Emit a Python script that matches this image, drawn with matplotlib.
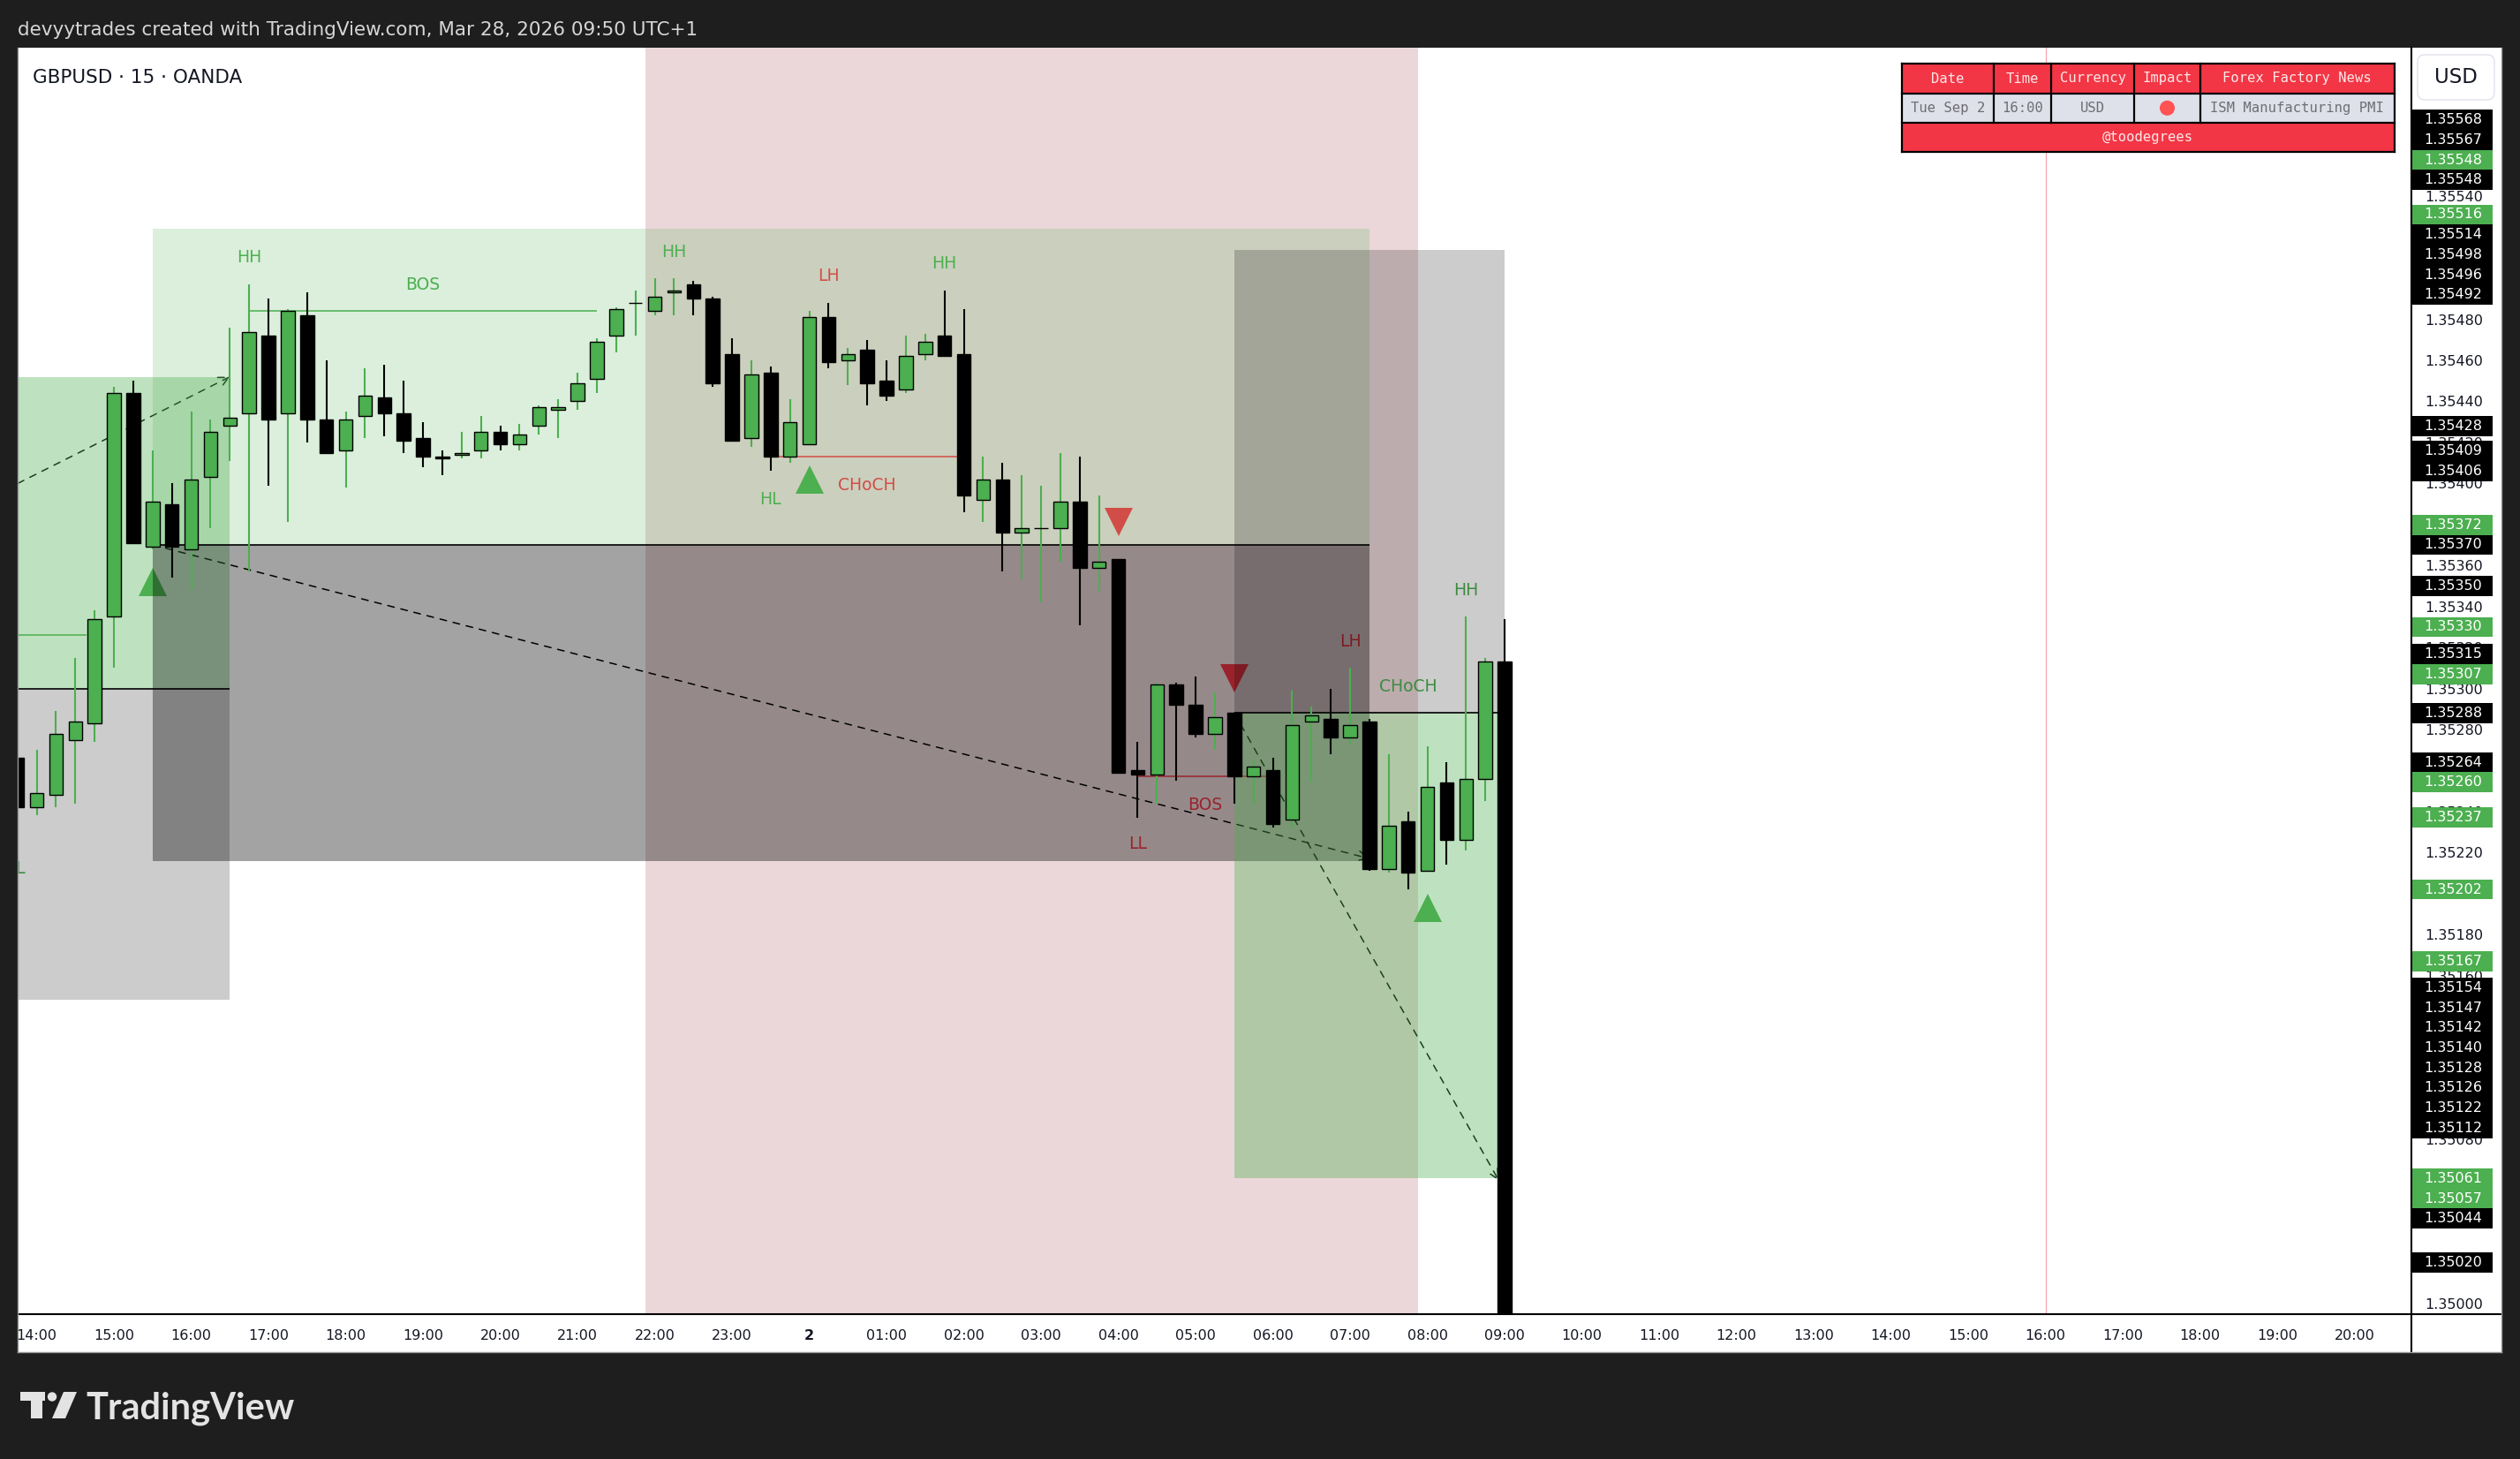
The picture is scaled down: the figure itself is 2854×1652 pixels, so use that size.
import numpy as np
import matplotlib.pyplot as plt
from matplotlib.patches import Rectangle, Circle, Polygon, FancyBboxPatch
from matplotlib.lines import Line2D
from matplotlib.transforms import blended_transform_factory

#%% data: GBPUSD 15m bars, first bar is 13:45 (cut by the left edge)
first_bar = -1
#            open     high     low      close
bars = [
    (1.35266, 1.35266, 1.35242, 1.35242),
    # 14:00
    (1.35242, 1.35270, 1.35238, 1.35249), (1.35248, 1.35289, 1.35242, 1.35278),
    (1.35275, 1.35315, 1.35244, 1.35284), (1.35283, 1.35338, 1.35274, 1.35334),
    # 15:00
    (1.35335, 1.35447, 1.35310, 1.35444), (1.35444, 1.35450, 1.35371, 1.35371),
    (1.35369, 1.35416, 1.35368, 1.35391), (1.35390, 1.35400, 1.35354, 1.35369),
    # 16:00
    (1.35368, 1.35435, 1.35348, 1.35402), (1.35403, 1.35431, 1.35378, 1.35425),
    (1.35428, 1.35476, 1.35411, 1.35432), (1.35434, 1.35497, 1.35357, 1.35474),
    # 17:00
    (1.35472, 1.35490, 1.35399, 1.35431), (1.35434, 1.35485, 1.35381, 1.35484),
    (1.35482, 1.35493, 1.35420, 1.35431), (1.35431, 1.35460, 1.35415, 1.35415),
    # 18:00
    (1.35416, 1.35435, 1.35398, 1.35431), (1.35433, 1.35456, 1.35422, 1.35443),
    (1.35442, 1.35458, 1.35423, 1.35434), (1.35434, 1.35450, 1.35415, 1.35421),
    # 19:00
    (1.35422, 1.35430, 1.35408, 1.35413), (1.35413, 1.35416, 1.35404, 1.35412),
    (1.35414, 1.35425, 1.35412, 1.35415), (1.35416, 1.35433, 1.35412, 1.35425),
    # 20:00
    (1.35425, 1.35428, 1.35416, 1.35419), (1.35419, 1.35429, 1.35416, 1.35424),
    (1.35428, 1.35438, 1.35424, 1.35437), (1.35436, 1.35441, 1.35422, 1.35437),
    # 21:00
    (1.35440, 1.35454, 1.35436, 1.35449), (1.35451, 1.35471, 1.35444, 1.35469),
    (1.35472, 1.35486, 1.35464, 1.35485), (1.35488, 1.35494, 1.35472, 1.35488),
    # 22:00
    (1.35484, 1.35500, 1.35482, 1.35491), (1.35493, 1.35500, 1.35482, 1.35494),
    (1.35497, 1.35499, 1.35482, 1.35490), (1.35490, 1.35491, 1.35447, 1.35449),
    # 23:00
    (1.35463, 1.35471, 1.35421, 1.35421), (1.35422, 1.35460, 1.35418, 1.35453),
    (1.35454, 1.35457, 1.35406, 1.35413), (1.35413, 1.35441, 1.35410, 1.35430),
    # 00:00
    (1.35419, 1.35484, 1.35419, 1.35481), (1.35481, 1.35488, 1.35456, 1.35459),
    (1.35460, 1.35466, 1.35448, 1.35463), (1.35465, 1.35470, 1.35438, 1.35449),
    # 01:00
    (1.35450, 1.35460, 1.35440, 1.35443), (1.35446, 1.35472, 1.35444, 1.35462),
    (1.35463, 1.35473, 1.35460, 1.35469), (1.35472, 1.35494, 1.35462, 1.35462),
    # 02:00
    (1.35463, 1.35485, 1.35386, 1.35394), (1.35392, 1.35413, 1.35381, 1.35402),
    (1.35402, 1.35410, 1.35357, 1.35376), (1.35376, 1.35404, 1.35353, 1.35378),
    # 03:00
    (1.35378, 1.35399, 1.35342, 1.35378), (1.35378, 1.35415, 1.35362, 1.35391),
    (1.35391, 1.35413, 1.35331, 1.35359), (1.35359, 1.35394, 1.35347, 1.35362),
    # 04:00
    (1.35363, 1.35363, 1.35259, 1.35259), (1.35260, 1.35274, 1.35237, 1.35258),
    (1.35258, 1.35303, 1.35244, 1.35302), (1.35302, 1.35303, 1.35255, 1.35292),
    # 05:00
    (1.35292, 1.35306, 1.35276, 1.35278), (1.35278, 1.35298, 1.35270, 1.35286),
    (1.35288, 1.35288, 1.35244, 1.35257), (1.35257, 1.35265, 1.35244, 1.35262),
    # 06:00
    (1.35260, 1.35266, 1.35232, 1.35234), (1.35236, 1.35299, 1.35232, 1.35282),
    (1.35284, 1.35291, 1.35254, 1.35287), (1.35285, 1.35300, 1.35268, 1.35276),
    # 07:00
    (1.35276, 1.35310, 1.35273, 1.35282), (1.35284, 1.35285, 1.35211, 1.35212),
    (1.35212, 1.35268, 1.35210, 1.35233), (1.35235, 1.35240, 1.35202, 1.35210),
    # 08:00
    (1.35211, 1.35272, 1.35211, 1.35252), (1.35254, 1.35264, 1.35214, 1.35226),
    (1.35226, 1.35335, 1.35221, 1.35256), (1.35256, 1.35315, 1.35245, 1.35313),
    # 09:00
    (1.35313, 1.35334, 1.34900, 1.34950),
]

time_labels = ['14:00', '15:00', '16:00', '17:00', '18:00', '19:00', '20:00',
               '21:00', '22:00', '23:00', '2', '01:00', '02:00', '03:00',
               '04:00', '05:00', '06:00', '07:00', '08:00', '09:00', '10:00',
               '11:00', '12:00', '13:00', '14:00', '15:00', '16:00', '17:00',
               '18:00', '19:00', '20:00']
price_ticks = np.round(np.arange(1.35000, 1.35581, 0.0002), 5)

# coloured labels on the price scale
scale_vals = [1.35568, 1.35567, 1.35548, 1.35548, 1.35516, 1.35514, 1.35498,
              1.35496, 1.35492, 1.35428, 1.35409, 1.35406, 1.35372, 1.35370,
              1.35350, 1.35330, 1.35315, 1.35307, 1.35288, 1.35264, 1.35260,
              1.35237, 1.35202, 1.35167, 1.35154, 1.35147, 1.35142, 1.35140,
              1.35128, 1.35126, 1.35122, 1.35112, 1.35061, 1.35057, 1.35044,
              1.35020]
scale_kind = ['b', 'b', 'g', 'b', 'g', 'b', 'b', 'b', 'b', 'b', 'b', 'b',
              'g', 'b', 'b', 'g', 'b', 'g', 'b', 'b', 'g', 'g', 'g', 'g',
              'b', 'b', 'b', 'b', 'b', 'b', 'b', 'b', 'g', 'g', 'b', 'b']

# zones (bar from, bar to, price low, price high, kind)
zones = [
    (-3, 10, 1.35300, 1.35452, 'bull2'),
    (-3, 10, 1.35148, 1.35300, 'bear1'),
    (6, 69, 1.35370, 1.35524, 'bull1'),
    (6, 69, 1.35216, 1.35370, 'bear2'),
    (62, 76, 1.35288, 1.35514, 'bear1'),
    (62, 76, 1.35061, 1.35288, 'bull2'),
]
session = (31.5, 71.5)       # 22:00 - 08:00 bars
news_bar = 104               # 16:00 next day

# structure lines (price, bar from, bar to, kind)
struct_lines = [
    (1.35326, -3, 2.6, 'bull'),
    (1.35484, 11, 29, 'bull'),
    (1.35413, 38, 48, 'bear'),
    (1.35257, 57, 64, 'bear'),
]
level_lines = [
    (1.35300, -3, 10),
    (1.35370, 6, 69),
    (1.35288, 62, 76),
]
# dashed arrows (bar0, price0, bar1, price1)
arrows = [
    (-0.98, 1.35400, 10, 1.35452),
    (6, 1.35370, 69, 1.35217),
    (62, 1.35288, 75.7, 1.35060),
]
swing_text = ['HH', 'BOS', 'HH', 'LH', 'HH', 'HL', 'CHoCH', 'LL', 'BOS', 'LH',
              'CHoCH', 'HH', 'HL']
swing_bar = [11, 20, 33, 41, 47, 38, 43, 57, 60.5, 68, 71, 74, -1.15]
swing_price = [1.35510, 1.35497, 1.35513, 1.35501, 1.35507, 1.35392, 1.35399,
               1.35224, 1.35243, 1.35323, 1.35301, 1.35348, 1.35212]
swing_kind = ['bull', 'bull', 'bull', 'bear', 'bull', 'bull', 'bear', 'bear',
              'bear', 'bear', 'bull', 'bull', 'bull']
up_marks_bar = [6, 40, 72]
up_marks_price = [1.35352, 1.35402, 1.35193]
down_marks_bar = [56, 62]
down_marks_price = [1.35381, 1.35305]

table_head = ['Date', 'Time', 'Currency', 'Impact', 'Forex Factory News']
table_row = ['Tue Sep 2', '16:00', 'USD', '', 'ISM Manufacturing PMI']
table_foot = '@toodegrees'

header_text = 'devyytrades created with TradingView.com, Mar 28, 2026 09:50 UTC+1'
symbol_text = 'GBPUSD · 15 · OANDA'

#%% styles
W, H = 2854, 1652
DARK = '#1e1e1e'
GREEN = '#4caf50'
RED = '#f23645'
INK = '#131722'
zone_style = {'bull1': (GREEN, 0.2), 'bull2': (GREEN, 0.36),
              'bear1': ('black', 0.2), 'bear2': ('black', 0.36)}
kind_color = {'bull': GREEN, 'bear': RED}

fig = plt.figure(figsize=(W / 100, H / 100), dpi=100, facecolor=DARK)

# background panel and overlay in pixel coordinates
bg = fig.add_axes([0, 0, 1, 1], zorder=-10)
bg.set_xlim(0, W)
bg.set_ylim(H, 0)
bg.axis('off')
bg.add_patch(Rectangle((20, 54), 2813, 1477, fc='white', ec='none'))

ax = fig.add_axes([20 / W, 1 - 1488 / H, 2711 / W, 1434 / H], zorder=1)
ax.set_facecolor('white')
ax.set_xlim(-0.987, 122.945)
ax.set_ylim(1.3499483, 1.356125)
for s in ax.spines.values():
    s.set_visible(False)

#%% candles
o, h, l, c = (np.array(col) for col in zip(*bars))
k = np.arange(first_bar, first_bar + len(o))
up = c >= o
col = np.where(up, GREEN, 'black')
ax.vlines(k, l, h, colors=col, lw=1.5, zorder=5)
ax.bar(k, np.maximum(np.abs(c - o), 3e-7), bottom=np.minimum(o, c), width=0.71,
       color=col, edgecolor='black', linewidth=1.0, zorder=6)

#%% drawings
ax.axvspan(session[0], session[1], color='#ebd7d9', lw=0, zorder=0.5)
ax.axvline(news_bar, color='#f5a3aa', lw=0.9, zorder=0.6)

for x0, x1, p0, p1, kind in zones:
    fc, a = zone_style[kind]
    ax.add_patch(Rectangle((x0, p0), x1 - x0, p1 - p0, fc=fc, alpha=a, ec='none', zorder=3))

for p, x0, x1, kind in struct_lines:
    ax.hlines(p, x0, x1, colors=kind_color[kind], lw=1.1, zorder=1)
for p, x0, x1 in level_lines:
    ax.hlines(p, x0, x1, colors='black', lw=1.2, zorder=4)

for x0, p0, x1, p1 in arrows:
    ax.annotate('', xy=(x1, p1), xytext=(x0, p0), zorder=1,
                arrowprops=dict(arrowstyle='->', color='black', lw=1.1,
                                linestyle=(0, (5, 5)), shrinkA=0, shrinkB=0,
                                mutation_scale=20))

for t, x, p, kind in zip(swing_text, swing_bar, swing_price, swing_kind):
    ax.text(x, p, t, color=kind_color[kind], fontsize=13.5, ha='center',
            va='center', zorder=1, clip_on=True)

ax.plot(up_marks_bar, up_marks_price, ls='none', marker='^', ms=23.5,
        color=GREEN, mew=0, zorder=1)
ax.plot(down_marks_bar, down_marks_price, ls='none', marker='v', ms=23.5,
        color=RED, mew=0, zorder=1)

#%% axes ticks
ax.set_xticks(np.arange(0, 4 * len(time_labels), 4))
ax.set_xticklabels(time_labels)
ax.tick_params(axis='x', length=0, pad=12.5, labelsize=11.5, labelcolor=INK)
for lab in ax.get_xticklabels():
    if lab.get_text() == '2':
        lab.set_fontweight('bold')
ax.yaxis.tick_right()
ax.set_yticks(price_ticks)
ax.set_yticklabels([f'{v:.5f}' for v in price_ticks])
ax.tick_params(axis='y', length=0, pad=10.8, labelsize=11.5, labelcolor=INK)

# coloured scale labels, pushed apart like the price scale does
lab_h = 0.0000978
mid = sum(ax.get_ylim()) / 2
order = sorted(range(len(scale_vals)), key=lambda i: (scale_vals[i], scale_kind[i] == 'g'))
pos = [0.0] * len(scale_vals)
last = None
for i in [j for j in order if scale_vals[j] > mid]:
    y = scale_vals[i] if last is None else max(scale_vals[i], last + lab_h)
    pos[i] = last = y
last = None
for i in [j for j in order if scale_vals[j] <= mid][::-1]:
    y = scale_vals[i] if last is None else min(scale_vals[i], last - lab_h)
    pos[i] = last = y

# a tick label whose middle sits under a coloured label is not seen at all
for v, lab in zip(price_ticks, ax.get_yticklabels()):
    if any(abs(v - y) < lab_h * 0.3 for y in pos):
        lab.set_visible(False)

tr = blended_transform_factory(ax.transAxes, ax.transData)
bx0 = (2732 - 20) / 2711
bx1 = (2823 - 20) / 2711
for v, kind, y in zip(scale_vals, scale_kind, pos):
    ax.add_patch(Rectangle((bx0, y - lab_h / 2), bx1 - bx0, lab_h, transform=tr,
                           fc=GREEN if kind == 'g' else 'black', ec='none',
                           clip_on=False, zorder=20))
    ax.text((2778 - 20) / 2711, y, f'{v:.5f}', transform=tr, color='white',
            fontsize=11.5, ha='center', va='center', clip_on=False, zorder=21)

#%% overlay: frame, header, table, logo
ov = fig.add_axes([0, 0, 1, 1], zorder=10)
ov.set_xlim(0, W)
ov.set_ylim(H, 0)
ov.axis('off')

ov.add_line(Line2D([20, 2833], [1488, 1488], color='black', lw=1.5))
ov.add_line(Line2D([2731, 2731], [54, 1531], color='black', lw=1.5))
ov.add_line(Line2D([20, 2833], [1531, 1531], color='#9a9a9a', lw=1))
ov.add_line(Line2D([2833, 2833], [54, 1531], color='#9a9a9a', lw=1))
ov.add_line(Line2D([19.5, 19.5], [54, 1531], color='#9a9a9a', lw=1))

ov.text(20, 40, header_text, color='#d6d6d6', fontsize=15.5, va='baseline')
ov.text(37, 94, symbol_text, color=INK, fontsize=15.5, va='baseline')

ov.add_patch(FancyBboxPatch((2738, 62), 87, 51, boxstyle='round,pad=0,rounding_size=8',
                            fc='white', ec='#e0e3eb', lw=1))
ov.text(2781.5, 88, 'USD', color=INK, fontsize=16.5, ha='center', va='center')

col_edges = [2154, 2257.5, 2323, 2417, 2492, 2711.5]
row_edges = [72.3, 105.7, 139, 172.3]
mono = 'DejaVu Sans Mono'
for j in range(5):
    x0, x1 = col_edges[j], col_edges[j + 1]
    ov.add_patch(Rectangle((x0, row_edges[0]), x1 - x0, row_edges[1] - row_edges[0],
                           fc=RED, ec='none'))
    ov.add_patch(Rectangle((x0, row_edges[1]), x1 - x0, row_edges[2] - row_edges[1],
                           fc='#dee0ea', ec='none'))
    ov.text((x0 + x1) / 2, (row_edges[0] + row_edges[1]) / 2, table_head[j],
            family=mono, fontsize=11.2, color='#ffe8ea', ha='center', va='center')
    ov.text((x0 + x1) / 2, (row_edges[1] + row_edges[2]) / 2, table_row[j],
            family=mono, fontsize=11.2, color='#6e6e74', ha='center', va='center')
ov.add_patch(Rectangle((col_edges[0], row_edges[2]), col_edges[-1] - col_edges[0],
                       row_edges[3] - row_edges[2], fc=RED, ec='none'))
ov.text((col_edges[0] + col_edges[-1]) / 2, (row_edges[2] + row_edges[3]) / 2, table_foot,
        family=mono, fontsize=11.2, color='#ffe8ea', ha='center', va='center')
ov.add_patch(Circle(((col_edges[3] + col_edges[4]) / 2, (row_edges[1] + row_edges[2]) / 2),
                    7.8, color='#ff5252'))
for y in row_edges:
    ov.add_line(Line2D([col_edges[0], col_edges[-1]], [y, y], color='black', lw=1.6))
for j, x in enumerate(col_edges):
    y1 = row_edges[-1] if j in (0, len(col_edges) - 1) else row_edges[2]
    ov.add_line(Line2D([x, x], [row_edges[0], y1], color='black', lw=1.6))

# TradingView logo
LOGO = '#e3e3e3'
ov.add_patch(Rectangle((23, 1576), 28, 10, fc=LOGO, ec='none'))
ov.add_patch(Rectangle((35, 1576), 13, 30, fc=LOGO, ec='none'))
ov.add_patch(Circle((59, 1581.5), 5.2, fc=LOGO, ec='none'))
ov.add_patch(Polygon([(72, 1576), (87, 1576), (74, 1606), (59, 1606)], fc=LOGO, ec='none'))
ov.text(97, 1606, 'TradingView', family='Lato', fontweight='bold', fontsize=30,
        color=LOGO, va='baseline')

fig.savefig('out.png', dpi=100, facecolor=DARK)
